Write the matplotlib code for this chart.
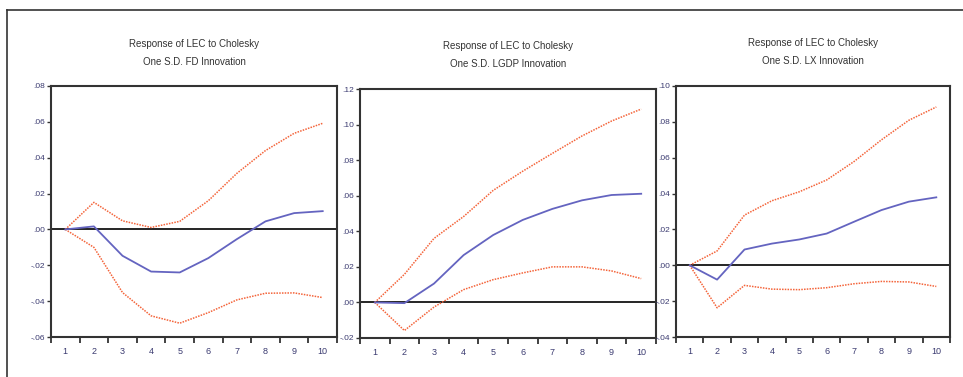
import matplotlib
matplotlib.use('Agg')
from matplotlib import pyplot as plt
from matplotlib.lines import Line2D
from matplotlib.ticker import FixedLocator, NullFormatter

# periods
periods = [1, 2, 3, 4, 5, 6, 7, 8, 9, 10]

# FD shock
fd_resp = [0.0, 0.0017, -0.0147, -0.0235, -0.024, -0.016, -0.0054, 0.0045, 0.0091, 0.0102]
fd_upper = [0.0, 0.0151, 0.0048, 0.0011, 0.0045, 0.016, 0.0313, 0.044, 0.0536, 0.0592]
fd_lower = [0.0, -0.010, -0.0352, -0.0482, -0.0523, -0.0464, -0.0393, -0.0356, -0.0354, -0.038]

# LGDP shock
lgdp_resp = [0.0, -0.0004, 0.0106, 0.0266, 0.0379, 0.0464, 0.0526, 0.0574, 0.0604, 0.0611]
lgdp_upper = [0.0, 0.0158, 0.036, 0.0483, 0.063, 0.0738, 0.0838, 0.0936, 0.102, 0.1087]
lgdp_lower = [0.0, -0.0158, -0.0026, 0.0072, 0.0128, 0.0166, 0.020, 0.020, 0.0177, 0.0134]

# LX shock
lx_resp = [0.0, -0.008, 0.0088, 0.0121, 0.0144, 0.0177, 0.0243, 0.0308, 0.0355, 0.0379]
lx_upper = [0.0, 0.008, 0.028, 0.036, 0.041, 0.0476, 0.0579, 0.070, 0.0809, 0.0883]
lx_lower = [0.0, -0.0237, -0.0112, -0.0133, -0.0136, -0.0125, -0.0103, -0.009, -0.0093, -0.0118]

titles = ['Response of LEC to Cholesky\nOne S.D. FD Innovation',
          'Response of LEC to Cholesky\nOne S.D. LGDP Innovation',
          'Response of LEC to Cholesky\nOne S.D. LX Innovation']
y_ticks = [[-0.06, -0.04, -0.02, 0.0, 0.02, 0.04, 0.06, 0.08],
           [-0.02, 0.0, 0.02, 0.04, 0.06, 0.08, 0.10, 0.12],
           [-0.04, -0.02, 0.0, 0.02, 0.04, 0.06, 0.08, 0.10]]

W, H = 963, 377
fig = plt.figure(figsize=(W / 100, H / 100), dpi=100)
font = ['Liberation Sans Narrow', 'Liberation Sans', 'DejaVu Sans']

# axes boxes in pixels: left, top, right, bottom
boxes = [(51, 86, 337, 337), (360, 89, 656, 338), (676, 86, 950, 337)]
title_pads = [15, 16, 16]
series = [(fd_resp, fd_upper, fd_lower),
          (lgdp_resp, lgdp_upper, lgdp_lower),
          (lx_resp, lx_upper, lx_lower)]

for box, (resp, up, lo), title, yt, tpad in zip(boxes, series, titles, y_ticks, title_pads):
    l, t, r, b = box
    ax = fig.add_axes([l / W, 1 - b / H, (r - l) / W, (b - t) / H])
    ax.axhline(0, color='black', lw=1.2, zorder=1)
    ax.plot(periods, up, color='#f4643a', lw=1.1, ls=(0, (1, 0.8)), zorder=2)
    ax.plot(periods, lo, color='#f4643a', lw=1.1, ls=(0, (1, 0.8)), zorder=2)
    ax.plot(periods, resp, color='#6464c0', lw=1.3, zorder=3)
    ax.set_xlim(0.5, 10.5)
    ax.set_ylim(yt[0], yt[-1])
    ax.set_yticks(yt)
    ax.set_yticklabels([('%.2f' % v).replace('0.', '.') for v in yt],
                       fontsize=6, family=font, color='#3a3a70')
    ax.xaxis.set_major_locator(FixedLocator([i + 0.5 for i in range(0, 11)]))
    ax.xaxis.set_major_formatter(NullFormatter())
    ax.xaxis.set_minor_locator(FixedLocator(periods))
    ax.set_xticklabels([str(p) for p in periods], minor=True,
                       fontsize=6.5, family=font, color='#3a3a70')
    ax.tick_params(axis='x', which='major', direction='out', length=4, width=1.3, color='#333333')
    ax.tick_params(axis='x', which='minor', length=0, pad=7)
    ax.tick_params(axis='y', direction='out', length=3, width=1.0, color='#333333', pad=1)
    for s in ax.spines.values():
        s.set_linewidth(1.5)
        s.set_color('#333333')
    ax.set_title(title, fontsize=7, family=font, color='#333333', pad=tpad, linespacing=2.0)

# outer frame (top and left edges)
fig.add_artist(Line2D([7 / W, 1], [1 - 9.5 / H, 1 - 9.5 / H], color='#333333', lw=1.2))
fig.add_artist(Line2D([7 / W, 7 / W], [0, 1 - 9.5 / H], color='#333333', lw=1.2))

plt.savefig('out.png', dpi=100)
